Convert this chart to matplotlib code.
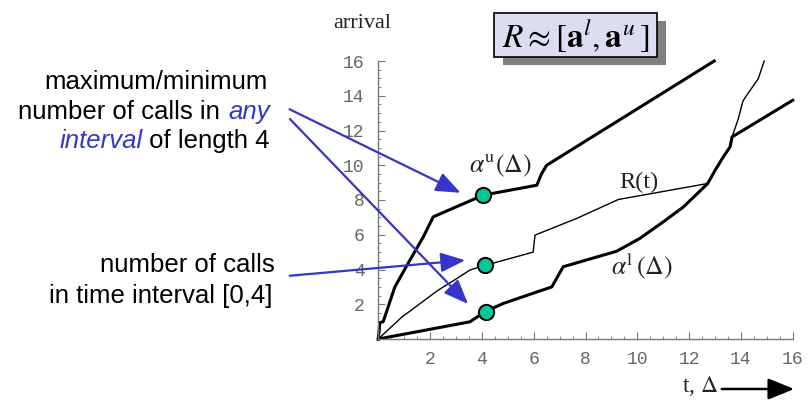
import matplotlib
matplotlib.use('Agg')
import matplotlib.pyplot as plt
from matplotlib.transforms import Affine2D
from matplotlib.patches import Rectangle, FancyArrowPatch
from matplotlib.ticker import MultipleLocator

plt.rcParams['mathtext.fontset'] = 'stix'

W, H = 809, 405

# ---- data ----
upper_x = [0, 0.06, 0.19, 0.64, 1.22, 1.74, 2.12, 4.05, 6.12, 6.3, 6.5, 12.97]
upper_y = [0, 0.94, 1.0, 3.0, 4.54, 5.88, 7.03, 8.28, 8.85, 9.5, 10.0, 16.0]

lower_x = [0, 3.54, 4.12, 4.83, 6.7, 7.14, 9.2, 10.1, 11.0, 11.78, 12.72,
           13.0, 13.32, 13.58, 13.66, 16.0]
lower_y = [0, 0.99, 1.57, 2.05, 3.0, 4.16, 5.05, 5.79, 6.74, 7.6, 8.95,
           9.7, 10.48, 11.05, 11.63, 13.74]

r_x = [0, 0.9, 2.3, 3.0, 3.54, 4.03, 5.98, 6.05, 7.66, 9.27, 12.72,
       13.0, 13.32, 13.58, 13.66, 13.9, 14.08, 14.22, 14.67, 14.9]
r_y = [0, 1.25, 2.8, 3.45, 3.97, 4.2, 5.0, 5.98, 6.94, 8.03, 8.95,
       9.7, 10.48, 11.05, 11.63, 12.68, 13.7, 14.02, 14.98, 16.0]

marker_x = [4.05, 4.12, 4.14]
marker_y = [8.28, 4.25, 1.57]

ticks = [2, 4, 6, 8, 10, 12, 14, 16]
tick_labels = [str(t) for t in ticks]

# ---- figure ----
fig = plt.figure(figsize=(W / 100, H / 100), dpi=100)
px = Affine2D().scale(1 / W, -1 / H).translate(0, 1) + fig.transFigure

ax = fig.add_axes([378.3 / W, (H - 339) / H, (792.7 - 378.3) / W, (339 - 61) / H])
ax.set_xlim(0, 16)
ax.set_ylim(0, 16)
for s in ['top', 'right']:
    ax.spines[s].set_visible(False)
for s in ['left', 'bottom']:
    ax.spines[s].set_color('#777777')
    ax.spines[s].set_linewidth(1.0)

ax.set_xticks(ticks)
ax.set_yticks(ticks)
ax.set_xticklabels(tick_labels)
ax.set_yticklabels(tick_labels)
ax.xaxis.set_minor_locator(MultipleLocator(0.5))
ax.yaxis.set_minor_locator(MultipleLocator(0.5))
ax.tick_params(which='major', direction='in', length=5, width=0.8, color='#777777',
               labelcolor='#666666', labelsize=13)
ax.tick_params(which='minor', direction='in', length=2.5, width=0.6, color='#777777')
ax.tick_params(axis='x', pad=9)
ax.tick_params(axis='y', pad=10)
for lab in ax.get_xticklabels() + ax.get_yticklabels():
    lab.set_fontfamily('Liberation Mono')
ax.patch.set_alpha(0)

ax.plot(r_x, r_y, color='black', lw=1.0, solid_joinstyle='round', clip_on=False)
ax.plot(upper_x, upper_y, color='black', lw=2.2, solid_joinstyle='round', clip_on=False)
ax.plot(lower_x, lower_y, color='black', lw=2.2, solid_joinstyle='round', clip_on=False)
ax.plot(marker_x, marker_y, ls='none', marker='o', markersize=11,
        markerfacecolor='#00c896', markeredgecolor='black', markeredgewidth=1.4,
        clip_on=False, zorder=5)

serif = 'Liberation Serif'
sans = 'Liberation Sans'
blue = '#3535cc'

# curve labels
fig.text(500, 166, r'$\alpha^{\mathrm{u}}(\Delta)$', transform=px, ha='center', va='center',
         fontsize=18.5, color='#222222')
fig.text(639, 182, 'R(t)', transform=px, ha='center', va='center',
         fontsize=17.5, family=serif, color='#222222')
fig.text(642, 266, r'$\alpha^{\mathrm{l}}\,(\Delta)$', transform=px, ha='center', va='center',
         fontsize=18.5, color='#222222')

# axis titles
fig.text(362.5, 28, 'arrival', transform=px, ha='center', va='baseline',
         fontsize=16, family=serif, color='#222222')
fig.text(718, 392, r't, $\Delta$', transform=px, ha='right', va='baseline',
         fontsize=17, family=serif, color='#222222')
fig.add_artist(FancyArrowPatch((719, 389), (797, 389), transform=px,
                               arrowstyle='-|>,head_length=16,head_width=6.5',
                               mutation_scale=1, lw=1.8, color='black'))

# formula box
fig.add_artist(Rectangle((503, 21), 163, 44, transform=px, facecolor='#808080',
                         edgecolor='none'))
fig.add_artist(Rectangle((494, 13), 163, 44, transform=px, facecolor='#dcdcf2',
                         edgecolor='black', lw=1.2))
fig.text(576, 36, r'$R \approx [\mathbf{a}^{l}, \mathbf{a}^{u}\,]$', transform=px,
         ha='center', va='center', fontsize=24, color='black')

# left annotations
fs = 18.5
fig.text(268, 89, 'maximum/minimum', transform=px, ha='right', va='baseline',
         fontsize=fs, family=sans, color='black')
fig.canvas.draw()
renderer = fig.canvas.get_renderer()
inv = px.inverted()

t_any = fig.text(270, 119, 'any', transform=px, ha='right', va='baseline',
                 fontsize=fs, family=sans, style='italic', color=blue)
x0 = inv.transform(t_any.get_window_extent(renderer).get_points())[0][0]
fig.text(x0 - 1, 119, 'number of calls in ', transform=px, ha='right', va='baseline',
         fontsize=fs, family=sans, color='black')

t_len = fig.text(270, 148, ' of length 4', transform=px, ha='right', va='baseline',
                 fontsize=fs, family=sans, color='black')
x0 = inv.transform(t_len.get_window_extent(renderer).get_points())[0][0]
fig.text(x0, 148, 'interval', transform=px, ha='right', va='baseline',
         fontsize=fs, family=sans, style='italic', color=blue)

fig.text(275, 272, 'number of calls', transform=px, ha='right', va='baseline',
         fontsize=fs, family=sans, color='black')
fig.text(273, 303, 'in time interval [0,4]', transform=px, ha='right', va='baseline',
         fontsize=fs, family=sans, color='black')

# blue arrows
for (xs, ys), (xe, ye) in [((287, 108), (463, 194)),
                           ((288, 117), (470, 306)),
                           ((287, 276), (468, 260))]:
    fig.add_artist(FancyArrowPatch((xs, ys), (xe, ye), transform=px,
                                   arrowstyle='-|>,head_length=15,head_width=6',
                                   mutation_scale=1, lw=1.6, color=blue, zorder=10))

fig.savefig('out.png', dpi=100)
